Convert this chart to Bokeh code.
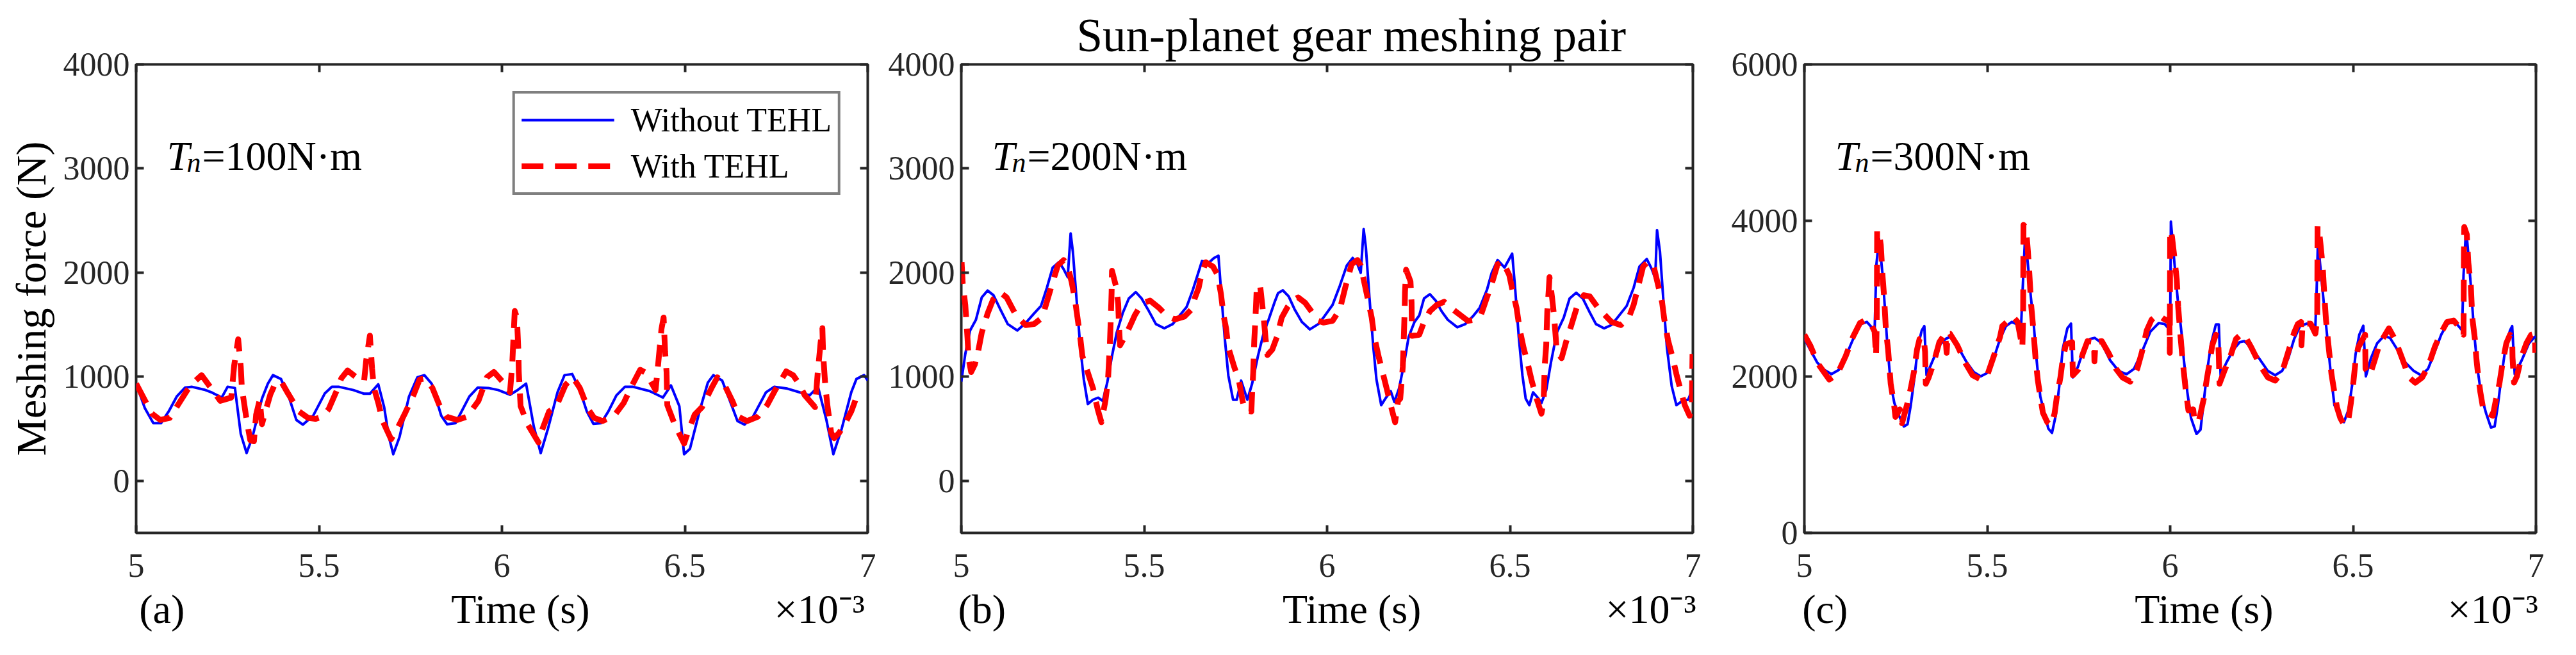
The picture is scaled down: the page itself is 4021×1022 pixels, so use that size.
from bokeh.plotting import figure
from bokeh.models import (Label, LinearAxis, FixedTicker, Range1d, Legend,
                          LegendItem, NumeralTickFormatter,
                          CustomJSTickFormatter, CustomLabelingPolicy)
from bokeh.layouts import row
from bokeh.embed import file_html
from bokeh.resources import INLINE

SERIF = "Liberation Serif"
INK = "#262626"

x_ticks = [5, 5.5, 6, 6.5, 7]
y_ticks_ab = [0, 1000, 2000, 3000, 4000]
y_ticks_c = [0, 2000, 4000, 6000]
torques = ["100", "200", "300"]
panel_tags = ["(a)", "(b)", "(c)"]

# ---- (a) Tn = 100 N.m  (time in 1e-3 s, force in N) ----
ta_wo = [5.000, 5.024, 5.047, 5.068, 5.089, 5.111, 5.134, 5.153, 5.186, 5.208,
         5.234, 5.250, 5.270, 5.286, 5.302, 5.318, 5.344, 5.360, 5.374, 5.396,
         5.419, 5.438, 5.456, 5.484, 5.516, 5.535, 5.555, 5.594, 5.623, 5.639,
         5.662, 5.678, 5.691, 5.703, 5.720, 5.746, 5.769, 5.788, 5.808, 5.834,
         5.850, 5.873, 5.911, 5.934, 5.963,
         5.990, 6.022, 6.041, 6.066, 6.087, 6.106, 6.126, 6.152, 6.171, 6.192,
         6.213, 6.232, 6.250, 6.271, 6.291, 6.313, 6.336, 6.359, 6.404, 6.440,
         6.462, 6.485, 6.498, 6.514, 6.540, 6.563, 6.578, 6.602, 6.621, 6.644,
         6.663, 6.686, 6.722, 6.744, 6.780, 6.819, 6.841, 6.864, 6.887, 6.906,
         6.929, 6.955, 6.969, 6.990, 7.000]
fa_wo = [933, 697, 554, 554, 667, 810, 896, 903, 876, 847,
         800, 903, 892, 451, 267, 421, 790, 933, 1015, 978,
         790, 585, 540, 626, 841, 903, 903, 872, 837, 837,
         927, 708, 421, 256, 421, 810, 995, 1015, 933, 626,
         544, 554, 810, 896, 892,
         872, 827, 868, 933, 523, 267, 503, 851, 1015, 1026,
         872, 667, 548, 554, 667, 821, 903, 903, 862, 800,
         917, 718, 256, 308, 667, 944, 1015, 964, 790, 574,
         540, 615, 851, 903, 886, 845, 821, 903, 585, 256,
         503, 851, 978, 1015, 964]
ta_w = [5.000, 5.043, 5.066, 5.092, 5.140, 5.160, 5.179, 5.230, 5.260, 5.268,
        5.279, 5.286, 5.289, 5.302, 5.312, 5.322, 5.328, 5.338, 5.344, 5.351,
        5.367, 5.380, 5.396, 5.415, 5.445, 5.470, 5.490, 5.509, 5.526, 5.549,
        5.561, 5.578, 5.600, 5.623, 5.629, 5.639, 5.645, 5.650, 5.662, 5.674,
        5.697, 5.717, 5.736, 5.759, 5.775, 5.791, 5.810, 5.830, 5.849, 5.878,
        5.904, 5.936, 5.959, 5.978,
        6.012, 6.022, 6.028, 6.035, 6.041, 6.045, 6.046, 6.051, 6.070, 6.100,
        6.109, 6.129, 6.148, 6.174, 6.194, 6.213, 6.236, 6.252, 6.275, 6.307,
        6.333, 6.352, 6.378, 6.394, 6.420, 6.427, 6.436, 6.442, 6.446, 6.450,
        6.452, 6.472, 6.498, 6.508, 6.527, 6.547, 6.573, 6.589, 6.611, 6.631,
        6.647, 6.670, 6.699, 6.725, 6.747, 6.777, 6.796, 6.812, 6.828, 6.856,
        6.863, 6.871, 6.876, 6.878, 6.884, 6.890, 6.900, 6.908, 6.922, 6.935,
        6.955, 6.971]
fa_w = [933, 646, 585, 605, 872, 954, 1015, 769, 800, 1108,
        1360, 1097, 892, 585, 390, 380, 636, 780, 544, 636,
        831, 933, 958, 841, 667, 605, 595, 615, 687, 872,
        985, 1060, 999, 954, 1159, 1395, 1077, 892, 749, 574,
        400, 523, 656, 831, 974, 985, 892, 718, 615, 585,
        615, 769, 995, 1046,
        913, 851, 1108, 1631, 1569, 1241, 1046, 718, 544, 369,
        482, 667, 708, 923, 995, 892, 687, 605, 574, 626,
        749, 892, 1067, 1036, 872, 1118, 1456, 1569, 1241, 1046,
        728, 544, 359, 462, 636, 708, 892, 995, 903, 759,
        615, 574, 615, 728, 872, 1051, 1015, 933, 821, 708,
        1026, 1323, 1467, 1221, 913, 718, 462, 410, 462, 533,
        667, 821]

# ---- (b) Tn = 200 N.m ----
tb_wo = [5.000, 5.011, 5.024, 5.040, 5.056, 5.072, 5.088, 5.108, 5.127, 5.153,
         5.176, 5.199, 5.218, 5.234, 5.250, 5.267, 5.279, 5.291, 5.299, 5.305,
         5.315, 5.325, 5.335, 5.346, 5.360, 5.374, 5.387, 5.399, 5.412, 5.425,
         5.441, 5.458, 5.477, 5.493, 5.510, 5.532, 5.555, 5.578, 5.597, 5.616,
         5.633, 5.646, 5.658, 5.678, 5.691, 5.703, 5.710, 5.720, 5.730, 5.743,
         5.753, 5.765, 5.782, 5.795, 5.811, 5.827, 5.840, 5.856, 5.866, 5.879,
         5.895, 5.911, 5.931, 5.953, 5.976,
         5.990, 6.015, 6.035, 6.054, 6.070, 6.083, 6.092, 6.100, 6.106, 6.116,
         6.126, 6.135, 6.148, 6.161, 6.174, 6.184, 6.197, 6.210, 6.223, 6.239,
         6.252, 6.265, 6.281, 6.297, 6.313, 6.330, 6.356, 6.378, 6.398, 6.417,
         6.437, 6.450, 6.466, 6.485, 6.506, 6.514, 6.524, 6.534, 6.543, 6.553,
         6.563, 6.576, 6.586, 6.599, 6.612, 6.628, 6.647, 6.663, 6.681, 6.699,
         6.718, 6.735, 6.757, 6.777, 6.796, 6.819, 6.838, 6.854, 6.874, 6.887,
         6.897, 6.902, 6.910, 6.919, 6.929, 6.942, 6.955, 6.971, 6.987, 7.000]
fb_wo = [953, 1219, 1444, 1547, 1762, 1828, 1783, 1639, 1506, 1444,
         1516, 1608, 1680, 1854, 2049, 2100, 2039, 1957, 2377, 2203,
         1752, 1301, 973, 738, 779, 799, 768, 943, 1199, 1424,
         1608, 1752, 1813, 1752, 1649, 1506, 1465, 1506, 1588, 1670,
         1834, 1977, 2111, 2100, 2141, 2162, 1834, 1383, 1014, 779,
         779, 963, 779, 932, 1199, 1424, 1547, 1711, 1803, 1830,
         1772, 1649, 1527, 1455, 1506,
         1568, 1690, 1875, 2069, 2141, 2080, 1998, 2418, 2244, 1752,
         1301, 973, 727, 799, 861, 758, 891, 1117, 1383, 1527,
         1588, 1752, 1793, 1731, 1629, 1547, 1475, 1506, 1578, 1660,
         1834, 1998, 2121, 2049, 2182, 1854, 1383, 1014, 789, 727,
         850, 799, 748, 871, 1137, 1424, 1568, 1752, 1807, 1752,
         1619, 1506, 1465, 1496, 1578, 1680, 1854, 2059, 2131, 2039,
         1947, 2408, 2203, 1752, 1281, 912, 727, 768, 779, 891]
tb_w = [5.001, 5.004, 5.011, 5.017, 5.020, 5.027, 5.037, 5.046, 5.056, 5.072,
        5.087, 5.105, 5.124, 5.150, 5.176, 5.199, 5.221, 5.247, 5.264, 5.280,
        5.291, 5.302, 5.312, 5.325, 5.331, 5.360, 5.373, 5.383, 5.394, 5.401,
        5.406, 5.408, 5.411, 5.412, 5.424, 5.429, 5.431, 5.434, 5.450, 5.461,
        5.474, 5.493, 5.516, 5.541, 5.561, 5.584, 5.610, 5.630, 5.639, 5.649,
        5.655, 5.668, 5.688, 5.701, 5.710, 5.717, 5.724, 5.730, 5.746, 5.759,
        5.769, 5.775, 5.793, 5.795, 5.798, 5.801, 5.804, 5.808, 5.817, 5.827,
        5.832, 5.837, 5.850, 5.863, 5.876, 5.892, 5.905, 5.921, 5.940, 5.976,
        5.990, 6.015, 6.028, 6.038, 6.051, 6.067, 6.083, 6.092, 6.103, 6.116,
        6.122, 6.129, 6.142, 6.151, 6.164, 6.174, 6.186, 6.194, 6.200, 6.207,
        6.209, 6.212, 6.213, 6.216, 6.228, 6.231, 6.232, 6.252, 6.265, 6.281,
        6.300, 6.320, 6.343, 6.362, 6.385, 6.404, 6.420, 6.440, 6.453, 6.466,
        6.480, 6.498, 6.508, 6.518, 6.526, 6.537, 6.547, 6.560, 6.573, 6.586,
        6.592, 6.595, 6.599, 6.602, 6.606, 6.608, 6.615, 6.621, 6.628, 6.641,
        6.654, 6.667, 6.683, 6.702, 6.718, 6.741, 6.777, 6.803, 6.825, 6.838,
        6.851, 6.864, 6.880, 6.893, 6.906, 6.916, 6.922, 6.932, 6.945, 6.955,
        6.968, 6.978, 6.991, 6.997, 6.999]
fb_w = [2100, 1895, 1690, 1373, 1178, 1045, 1117, 1240, 1424, 1608,
        1742, 1813, 1762, 1588, 1496, 1506, 1567, 1875, 2069, 2121,
        2059, 1906, 1711, 1383, 1199, 891, 686, 563, 768, 963,
        1291, 1486, 1813, 2018, 1854, 1701, 1506, 1301, 1404, 1486,
        1588, 1701, 1731, 1660, 1588, 1551, 1578, 1649, 1762, 1854,
        1957, 2100, 2059, 1977, 1793, 1588, 1465, 1281, 1096, 963,
        768, 676, 666, 840, 1035, 1352, 1547, 1875, 1875, 1557,
        1363, 1209, 1260, 1383, 1568, 1670, 1731, 1762, 1711, 1537,
        1520, 1537, 1608, 1690, 1875, 2080, 2121, 2069, 1885, 1670,
        1568, 1383, 1178, 1055, 871, 727, 563, 768, 789, 1096,
        1291, 1629, 1813, 2028, 1916, 1711, 1393, 1404, 1527, 1629,
        1690, 1720, 1649, 1598, 1537, 1547, 1588, 1793, 1926, 2080,
        2110, 1977, 1813, 1660, 1465, 1281, 1148, 953, 789, 645,
        768, 1107, 1301, 1629, 1834, 1957, 1762, 1568, 1240, 1178,
        1342, 1486, 1670, 1783, 1772, 1660, 1527, 1496, 1568, 1690,
        1875, 2059, 2111, 2059, 1864, 1711, 1547, 1352, 1178, 1025,
        850, 727, 625, 727, 1219]

# ---- (c) Tn = 300 N.m ----
tc_wo = [5.000, 5.016, 5.035, 5.055, 5.074, 5.094, 5.116, 5.136, 5.155, 5.171,
         5.184, 5.192, 5.197, 5.204, 5.214, 5.220, 5.227, 5.236, 5.246, 5.259,
         5.272, 5.282, 5.291, 5.301, 5.311, 5.321, 5.328, 5.334, 5.350, 5.369,
         5.386, 5.398, 5.421, 5.444, 5.463, 5.482, 5.499, 5.516, 5.535, 5.551,
         5.567, 5.580, 5.592, 5.599, 5.603, 5.609, 5.619, 5.627, 5.635, 5.645,
         5.658, 5.667, 5.677, 5.687, 5.697, 5.706, 5.719, 5.729, 5.734, 5.748,
         5.765, 5.781, 5.794, 5.813, 5.836, 5.859, 5.881, 5.901, 5.923, 5.946,
         5.969, 5.985, 6.000,
         6.002, 6.011, 6.021, 6.031, 6.037, 6.047, 6.057, 6.072, 6.083, 6.092,
         6.102, 6.112, 6.125, 6.133, 6.138, 6.154, 6.173, 6.190, 6.203, 6.222,
         6.245, 6.267, 6.287, 6.306, 6.323, 6.339, 6.355, 6.374, 6.387, 6.397,
         6.400, 6.404, 6.410, 6.420, 6.430, 6.439, 6.449, 6.462, 6.475, 6.488,
         6.498, 6.507, 6.517, 6.528, 6.535, 6.549, 6.566, 6.585, 6.601, 6.621,
         6.643, 6.666, 6.686, 6.705, 6.721, 6.741, 6.757, 6.773, 6.786, 6.798,
         6.802, 6.809, 6.815, 6.822, 6.831, 6.841, 6.851, 6.864, 6.877, 6.887,
         6.896, 6.906, 6.916, 6.929, 6.935, 6.942, 6.961, 6.981, 6.997, 7.000]
fc_wo = [2484, 2347, 2183, 2087, 2033, 2087, 2292, 2511, 2675, 2702,
         2634, 2579, 3440, 3768, 3303, 2893, 2402, 1910, 1664, 1500,
         1363, 1391, 1637, 1992, 2402, 2593, 2648, 2019, 2197, 2402,
         2484, 2511, 2374, 2183, 2060, 2005, 2046, 2210, 2484, 2648,
         2702, 2675, 2593, 3358, 3740, 3549, 3030, 2675, 2210, 1746,
         1500, 1336, 1281, 1500, 1883, 2347, 2620, 2680, 1992, 2128,
         2374, 2484, 2497, 2429, 2210, 2074, 2033, 2101, 2320, 2579,
         2688, 2675, 2593,
         3986, 3494, 2975, 2566, 2238, 1801, 1473, 1268, 1322, 1691,
         2101, 2429, 2669, 2669, 2019, 2183, 2347, 2443, 2456, 2374,
         2224, 2074, 2019, 2074, 2238, 2484, 2648, 2680, 2675, 2648,
         3030, 3740, 3440, 2948, 2484, 2046, 1637, 1514, 1418, 1582,
         1910, 2292, 2538, 2653, 2005, 2238, 2429, 2525, 2497, 2347,
         2183, 2074, 2019, 2101, 2292, 2538, 2675, 2702, 2661, 2593,
         3303, 3904, 3576, 3167, 2566, 2074, 1746, 1528, 1350, 1363,
         1637, 2019, 2347, 2593, 2648, 2033, 2210, 2429, 2511, 2497]
tc_w = [5.000, 5.016, 5.037, 5.068, 5.090, 5.113, 5.133, 5.152, 5.168, 5.179,
        5.192, 5.196, 5.198, 5.199, 5.204, 5.209, 5.214, 5.218, 5.223, 5.229,
        5.236, 5.245, 5.249, 5.261, 5.267, 5.282, 5.291, 5.300, 5.308, 5.315,
        5.326, 5.330, 5.332, 5.340, 5.353, 5.369, 5.385, 5.389, 5.392, 5.398,
        5.418, 5.441, 5.460, 5.483, 5.499, 5.518, 5.535, 5.541, 5.570, 5.583,
        5.596, 5.598, 5.599, 5.606, 5.611, 5.615, 5.620, 5.625, 5.632, 5.638,
        5.645, 5.652, 5.664, 5.674, 5.684, 5.690, 5.700, 5.706, 5.715, 5.732,
        5.734, 5.748, 5.761, 5.774, 5.792, 5.793, 5.796, 5.813, 5.833, 5.852,
        5.870, 5.891, 5.910, 5.923, 5.936, 5.949, 5.966, 5.982, 5.998,
        5.999, 6.000, 6.005, 6.011, 6.018, 6.022, 6.028, 6.034, 6.042, 6.050,
        6.063, 6.067, 6.079, 6.092, 6.100, 6.107, 6.115, 6.125, 6.131, 6.133,
        6.135, 6.148, 6.164, 6.180, 6.196, 6.209, 6.222, 6.248, 6.267, 6.287,
        6.306, 6.323, 6.339, 6.349, 6.358, 6.359, 6.362, 6.384, 6.397, 6.402,
        6.403, 6.407, 6.411, 6.417, 6.422, 6.426, 6.431, 6.435, 6.441, 6.449,
        6.456, 6.465, 6.476, 6.488, 6.494, 6.501, 6.507, 6.514, 6.533, 6.534,
        6.546, 6.559, 6.572, 6.598, 6.614, 6.634, 6.653, 6.670, 6.689, 6.705,
        6.724, 6.741, 6.757, 6.775, 6.793, 6.802, 6.803, 6.804, 6.811, 6.815,
        6.822, 6.826, 6.833, 6.837, 6.841, 6.848, 6.857, 6.870, 6.882, 6.890,
        6.900, 6.909, 6.919, 6.929, 6.935, 6.936, 6.940, 6.948, 6.961, 6.974,
        6.987, 6.997, 6.998]
fc_w = [2538, 2402, 2169, 1964, 2033, 2265, 2511, 2688, 2729, 2702,
        2580, 2265, 2729, 3877, 3850, 3686, 3276, 3030, 2593, 2347,
        1910, 1650, 1486, 1582, 1404, 1664, 1855, 2074, 2347, 2484,
        2511, 2320, 1910, 1992, 2169, 2443, 2552, 2306, 2552, 2552,
        2402, 2169, 2019, 1964, 2005, 2265, 2511, 2648, 2770, 2702,
        2374, 2757, 3945, 3904, 3617, 3330, 2921, 2661, 2238, 1964,
        1746, 1541, 1418, 1377, 1527, 1732, 1992, 2210, 2415, 2443,
        2019, 2087, 2292, 2456, 2443, 2197, 2443, 2456, 2292, 2101,
        1990, 1937, 2101, 2320, 2593, 2729, 2798, 2743, 2702,
        2306, 3877, 3795, 3549, 3249, 2893, 2538, 2210, 1855, 1568,
        1582, 1418, 1445, 1719, 1964, 2156, 2402, 2538, 2511, 2265,
        1910, 2074, 2251, 2484, 2552, 2484, 2374, 2128, 1992, 1951,
        2060, 2320, 2566, 2675, 2702, 2402, 2680, 2680, 2552, 2743,
        3932, 3877, 3699, 3412, 3003, 2729, 2484, 2306, 2033, 1801,
        1610, 1473, 1377, 1473, 1664, 1937, 2210, 2374, 2538, 2101,
        2019, 2210, 2415, 2620, 2484, 2238, 1992, 1924, 1992, 2128,
        2388, 2566, 2702, 2720, 2620, 2538, 3576, 3918, 3822, 3467,
        3167, 2757, 2484, 2238, 2060, 1801, 1555, 1527, 1500, 1691,
        1910, 2183, 2429, 2538, 2511, 2238, 1924, 2005, 2265, 2429,
        2538, 2552, 2306]

NB = "\u00a0"  # no-break space keeps the gaps in the bottom caption line


def add_text(p, x, y, text, size, **kw):
    p.add_layout(Label(x=x, y=y, x_units="screen", y_units="screen",
                       text=text, text_font=SERIF, text_font_size=size,
                       text_color="black", text_baseline="alphabetic", **kw))


def make_panel(i, t_wo, f_wo, t_w, f_w, y_start, y_end, y_ticks, width,
               left, right, gaps):
    p = figure(width=width, height=1006, x_range=Range1d(5, 7),
               y_range=Range1d(y_start, y_end), output_backend="svg",
               toolbar_location=None, min_border_left=left,
               min_border_right=right, min_border_top=100,
               min_border_bottom=175)
    p.background_fill_color = "white"
    p.border_fill_color = "white"
    p.grid.visible = False
    p.outline_line_color = INK
    p.outline_line_width = 4

    # box ticks on the right and on top, without labels
    for side in ("right", "above"):
        ax = LinearAxis(formatter=CustomJSTickFormatter(code="return ''"),
                        major_label_policy=CustomLabelingPolicy(code="return []"),
                        major_label_text_font_size="8px",
                        major_label_standoff=0)
        p.add_layout(ax, side)

    for ax in p.xaxis:
        ax.ticker = FixedTicker(ticks=x_ticks)
    for ax in p.yaxis:
        ax.ticker = FixedTicker(ticks=y_ticks)
    p.below[0].formatter = NumeralTickFormatter(format="0.[0]")
    p.left[0].formatter = NumeralTickFormatter(format="0")
    for ax in p.axis:
        ax.axis_line_color = None
        ax.major_tick_in = 12
        ax.major_tick_out = 0
        ax.minor_tick_in = 0
        ax.minor_tick_out = 0
        ax.major_tick_line_color = INK
        ax.major_tick_line_width = 4
    for ax in (p.below[0], p.left[0]):
        ax.major_label_text_font = SERIF
        ax.major_label_text_font_size = "52px"
        ax.major_label_text_color = INK
    p.below[0].major_label_standoff = 33
    p.left[0].major_label_standoff = 10

    # bottom caption line: panel tag, axis title and the x10^-3 multiplier
    xb = p.below[0]
    xb.axis_label = (panel_tags[i] + NB * gaps[0] + "Time (s)" + NB * gaps[1]
                     + "\u00d710\u207b\u00b3")
    xb.axis_label_text_font = SERIF
    xb.axis_label_text_font_size = "64px"
    xb.axis_label_text_font_style = "normal"
    xb.axis_label_text_color = "black"
    xb.axis_label_standoff = 12

    r_wo = p.line(t_wo, f_wo, line_color="#0000FF", line_width=4,
                  line_join="round")
    r_w = p.line(t_w, f_w, line_color="#FF0000", line_width=9,
                 line_dash="34 18", line_join="round")

    # T_n = ... N.m
    add_text(p, 48, 588, "T", "64px", text_font_style="italic")
    add_text(p, 79, 578, "n", "44px", text_font_style="italic")
    add_text(p, 103, 588, "=" + torques[i] + "N\u00b7m", "64px")
    return p, r_wo, r_w


pa, ra_wo, ra_w = make_panel(0, ta_wo, fa_wo, ta_w, fa_w, -500, 4000,
                             y_ticks_ab, 1370, 212, 16, (26, 18))
pb, rb_wo, rb_w = make_panel(1, tb_wo, fb_wo, tb_w, fb_w, -500, 4000,
                             y_ticks_ab, 1320, 130, 48, (27, 18))
pc, rc_wo, rc_w = make_panel(2, tc_wo, fc_wo, tc_w, fc_w, 0, 6000,
                             y_ticks_c, 1310, 126, 42, (28, 17))

ya = pa.left[0]
ya.axis_label = "Meshing force (N)"
ya.axis_label_text_font = SERIF
ya.axis_label_text_font_size = "66px"
ya.axis_label_text_font_style = "normal"
ya.axis_label_text_color = "black"
ya.axis_label_standoff = 11

pb.title.text = "Sun-planet gear meshing pair"
pb.title.align = "left"
pb.title.offset = 180
pb.title.text_font = SERIF
pb.title.text_font_size = "73px"
pb.title.text_font_style = "normal"
pb.title.text_color = "black"
pb.title.standoff = 10

legend = Legend(items=[LegendItem(label="Without TEHL", renderers=[ra_wo]),
                       LegendItem(label="With TEHL", renderers=[ra_w])],
                location="top_right", margin=42, padding=10, spacing=10,
                glyph_width=145, glyph_height=62, label_height=62,
                label_standoff=26, label_text_font=SERIF,
                label_text_font_size="52px", label_text_color="black",
                border_line_color="black", border_line_width=4,
                background_fill_color="white", background_fill_alpha=1.0)
pa.add_layout(legend)

layout = row(pa, pb, pc)
open("out.html", "w").write(file_html(layout, INLINE))
